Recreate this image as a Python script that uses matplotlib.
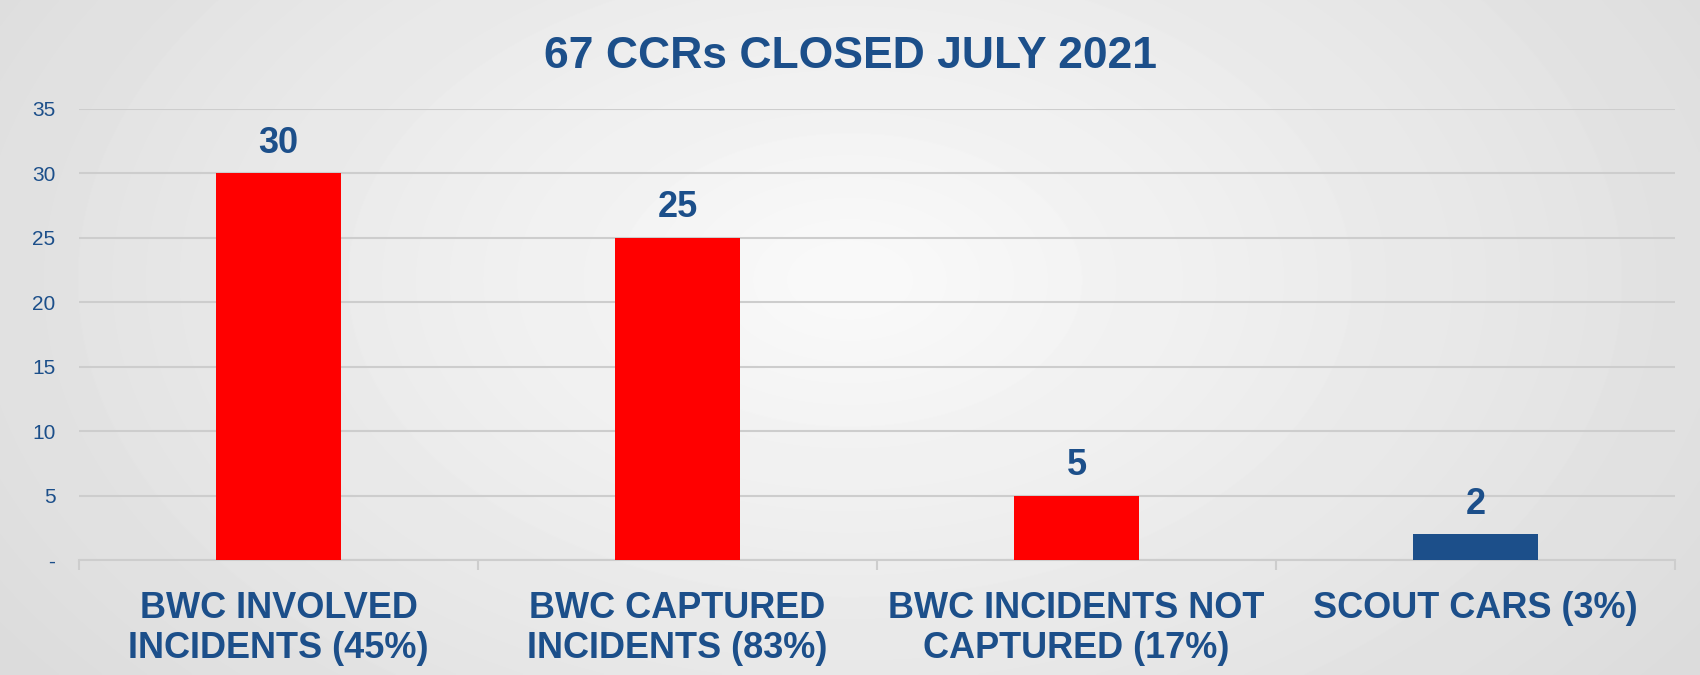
import numpy as np
import matplotlib.pyplot as plt

plt.rcParams['font.family'] = ['Liberation Sans', 'DejaVu Sans']

# data
categories = ["BWC INVOLVED\nINCIDENTS (45%)",
              "BWC CAPTURED\nINCIDENTS (83%)",
              "BWC INCIDENTS NOT\nCAPTURED (17%)",
              "SCOUT CARS (3%)"]
values = [30, 25, 5, 2]
bar_colors = ["#FF0000", "#FF0000", "#FF0000", "#1C4F8A"]
yticks = [0, 5, 10, 15, 20, 25, 30, 35]
ytick_labels = ["-", "5", "10", "15", "20", "25", "30", "35"]
title = "67 CCRs CLOSED JULY 2021"

blue = "#1C4F8A"
grid_col = "#CDCDCD"

fig = plt.figure(figsize=(17, 6.75), dpi=100)

# radial gradient background
bg = fig.add_axes([0, 0, 1, 1], zorder=-1)
yy, xx = np.mgrid[0:675, 0:1700]
r = np.sqrt(((xx - 850) / 950.0) ** 2 + ((yy - 280) / 600.0) ** 2)
shade = np.clip(0.98 - 0.11 * r, 0.86, 1.0)
bg.imshow(shade, cmap="gray", vmin=0, vmax=1, aspect="auto",
          extent=[0, 1, 0, 1], interpolation="bilinear")
bg.axis("off")

ax = fig.add_axes([79 / 1700, 1 - 560 / 675, (1675 - 79) / 1700, (560 - 109) / 675])
ax.set_facecolor("none")

x = np.arange(len(values))
bars = ax.bar(x, values, width=0.315, color=bar_colors, zorder=3)
ax.bar_label(bars, labels=[str(v) for v in values], padding=9,
             fontsize=26, fontweight="bold", color=blue)

ax.set_xlim(-0.5, len(values) - 0.5)
ax.set_ylim(0, 35)
ax.set_yticks(yticks, ytick_labels)
ax.tick_params(axis="y", length=0, pad=17, labelsize=15, labelcolor=blue)
ax.yaxis.grid(True, color=grid_col, linewidth=1.5, zorder=0)

ax.set_xticks(x, categories)
ax.tick_params(axis="x", which="major", length=0, pad=22, labelsize=26,
               labelcolor=blue)
for lbl in ax.get_xticklabels():
    lbl.set_fontweight("bold")
ax.set_xticks(np.arange(len(values) + 1) - 0.5, minor=True)
ax.tick_params(axis="x", which="minor", length=7.5, width=1.5,
               color=grid_col, direction="out")

for s in ["left", "right", "top"]:
    ax.spines[s].set_visible(False)
ax.spines["bottom"].set_color(grid_col)
ax.spines["bottom"].set_linewidth(1.5)

fig.text(0.5, 1 - 57 / 675, title, ha="center", va="center",
         fontsize=32, fontweight="bold", color=blue)

fig.savefig("out.png", dpi=100)
